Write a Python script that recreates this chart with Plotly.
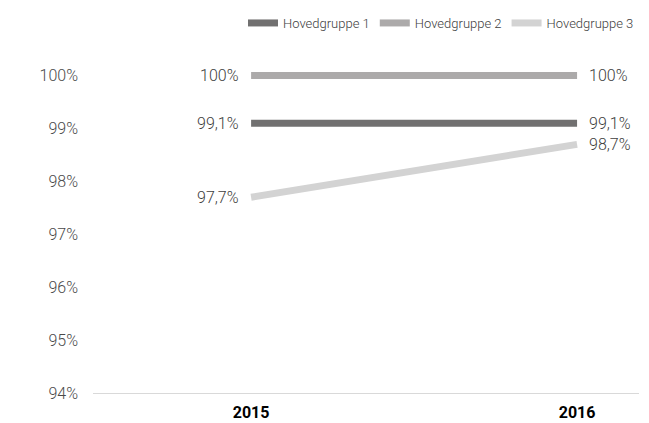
import plotly.graph_objects as go

years = ["2015", "2016"]
series_names = ["Hovedgruppe 1", "Hovedgruppe 2", "Hovedgruppe 3"]
g1 = [99.1, 99.1]
g2 = [100.0, 100.0]
g3 = [97.7, 98.7]
labels1 = ["99,1%", "99,1%"]
labels2 = ["100%", "100%"]
labels3 = ["97,7%", "98,7%"]
colors = ["#717070", "#acaaaa", "#d3d3d3"]
ytick_vals = [94, 95, 96, 97, 98, 99, 100]
ytick_text = ["94%", "95%", "96%", "97%", "98%", "99%", "100%"]

fig = go.Figure()
annots = []
for name, vals, labs, col in zip(series_names, [g1, g2, g3], [labels1, labels2, labels3], colors):
    fig.add_trace(go.Scatter(
        x=years, y=vals, name=name, mode="lines",
        line=dict(color=col, width=7), cliponaxis=False,
    ))
    for i, (yv, t) in enumerate(zip(vals, labs)):
        annots.append(dict(
            x=i, y=yv, text=t, showarrow=False,
            xanchor="right" if i == 0 else "left",
            xshift=-10 if i == 0 else 10, yshift=0,
            font=dict(family="Roboto", size=16, color="#404040", weight=300),
        ))

fig.update_layout(
    width=641, height=415,
    margin=dict(l=85, r=10, t=57.4, b=30, autoexpand=False),
    paper_bgcolor="white", plot_bgcolor="white",
    font=dict(family="Roboto", color="#595959"),
    showlegend=True,
    annotations=annots,
    legend=dict(orientation="h", x=1.0, xanchor="right", y=1.0, yanchor="top",
                yref="container", font=dict(size=13, color="#404040", weight=300),
                itemwidth=30, tracegroupgap=0, traceorder="normal"),
    xaxis=dict(type="category", range=[-0.485, 1.19], showgrid=False,
               showline=True, linecolor="#d9d9d9", linewidth=1, automargin=False,
               tickfont=dict(size=16, color="#000000", family="Roboto"),
               tickvals=years, ticktext=["<b>2015</b>", "<b>2016</b>"],
               ticks="", ticklabelstandoff=5),
    yaxis=dict(range=[94, 100.2], tickvals=ytick_vals, ticktext=ytick_text,
               showgrid=False, zeroline=False, showline=False, automargin=False,
               tickfont=dict(size=16, color="#4a4a4a", family="Roboto", weight=300),
               ticklabelstandoff=14),
)
fig.write_html("out.html")
